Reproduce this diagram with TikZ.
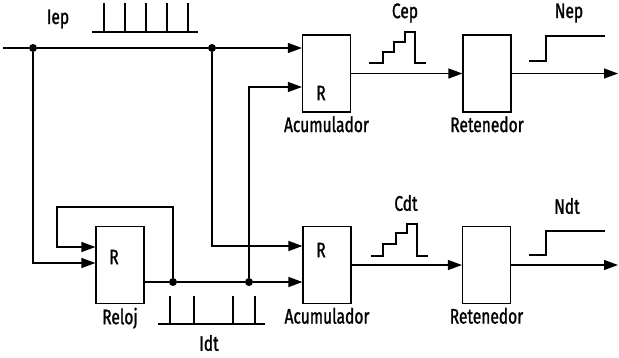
\documentclass[tikz,border=0pt]{standalone}
\usepackage{fontspec}
\setmainfont{Fira Sans}[FakeStretch=0.74,FakeBold=1.2]
\usetikzlibrary{arrows.meta,positioning,calc}
\tikzset{
  blk/.style  ={draw,line width=1.2pt,minimum width=48pt,minimum height=77pt,inner sep=0pt},
  wire/.style ={line width=1.2pt},
  flow/.style ={wire,-{Triangle[length=14pt,width=10pt]}},
  lbl/.style  ={font=\fontsize{21}{21}\selectfont,inner sep=1pt},
  dot/.style  ={circle,fill,inner sep=0pt,minimum size=8pt},
  sig/.style  ={line width=1.1pt},
}
\begin{document}
\begin{tikzpicture}[x=1pt,y=-1pt]
  \useasboundingbox (0,0) rectangle (619,357);
  % bloques
  \node[blk] (acu1) at (326.5,73.5) {};
  \node[blk] (ret1) at (487,73.5) {};
  \node[blk] (acu2) at (327,265) {};
  \node[blk] (ret2) at (486.5,265) {};
  \node[blk] (reloj) at (120,265) {};
  \node[lbl] (r1) at (321,93) {R};
  \node[lbl] (r2) at (321,250) {R};
  \node[lbl] (r3) at (114,257) {R};
  \node[lbl,below=2.5pt of acu1] (nacu1) {Acumulador};
  \node[lbl,below=2.5pt of ret1] (nret1) {Retenedor};
  \node[lbl,below=2.5pt of acu2] (nacu2) {Acumulador};
  \node[lbl,below=2.5pt of ret2] (nret2) {Retenedor};
  \node[lbl,below=2.5pt of reloj] (nreloj) {Reloj};
  % nudos
  \coordinate (in) at (3,48);
  \coordinate (fb) at (57,207);
  \coordinate (out1) at (618,73.5);
  \coordinate (out2) at (618,265);
  \node[dot] (d1) at (33,48) {};
  \node[dot] (d2) at (212,48) {};
  \node[dot] (d3) at (173,282) {};
  \node[dot] (d4) at (249,282) {};
  % conexiones
  \draw[wire] (in) -- (d1) -- (d2);
  \draw[flow] (d2) -- (d2 -| acu1.west);
  \draw[flow] (d1) |- ($(reloj.west)+(0,-2)$);
  \draw[flow] (d3) |- (fb) |- ($(reloj.west)+(0,-18)$);
  \draw[wire] ($(reloj.east)+(0,17)$) -- (d3) -- (d4);
  \draw[flow] (d4) -- (d4 -| acu2.west);
  \draw[flow] (d4) |- ($(acu1.west)+(0,13.5)$);
  \draw[flow] (d2) |- ($(acu2.west)+(0,-19)$);
  \draw[flow] (acu1) -- (ret1);
  \draw[flow] (ret1.east) -- (out1);
  \draw[flow] (acu2) -- (ret2);
  \draw[flow] (ret2.east) -- (out2);
  % senales
  \node[lbl] (iep) at (58,19) {Iep};
  \draw[sig] (92,32) -- (198,32);
  \foreach \x in {104,125,146,167,188} \draw[sig] (\x,32) -- (\x,3);
  \node[lbl] (idt) at (209,343) {Idt};
  \draw[sig] (158,324) -- (265,324);
  \foreach \x in {170,194,233,255} \draw[sig] (\x,324) -- (\x,296);
  \node[lbl] (cep) at (405,13) {Cep};
  \draw[sig] (369,63) -| (383,52) -| (394,42) -| (405,32) -| (415,63) -- (426,63);
  \node[lbl] (cdt) at (406,203) {Cdt};
  \draw[sig] (371,256) -| (383,244) -| (396,233) -| (407,224) -| (417,256) -- (428,256);
  \node[lbl] (nep) at (569,13) {Nep};
  \draw[sig] (529,61) -| (546,36) -- (605,36);
  \node[lbl] (ndt) at (567,206) {Ndt};
  \draw[sig] (529,255) -| (546,231) -- (605,231);
\end{tikzpicture}
\end{document}
